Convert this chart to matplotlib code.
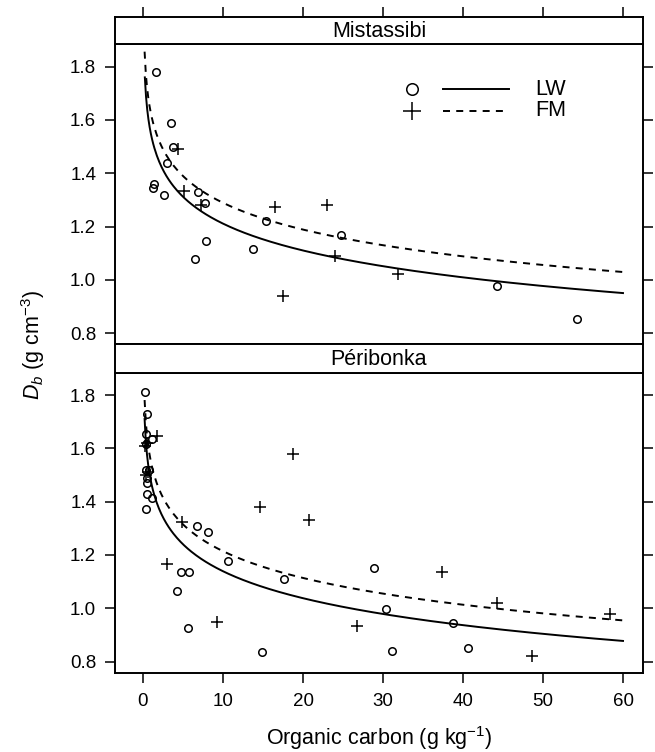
import numpy as np
import matplotlib
matplotlib.use('Agg')
import matplotlib.pyplot as plt

plt.rcParams['font.family'] = ['Liberation Sans', 'DejaVu Sans']
plt.rcParams['mathtext.fontset'] = 'custom'
plt.rcParams['mathtext.rm'] = 'Liberation Sans'
plt.rcParams['mathtext.it'] = 'Liberation Sans:italic'

# Mistassibi - points
mis_lw_oc = [1.6, 3.5, 3.7, 3.05, 1.4, 1.2, 2.6, 6.9, 7.8, 7.9, 6.5, 13.8, 15.4, 24.8, 44.3, 54.3]
mis_lw_db = [1.78, 1.59, 1.50, 1.44, 1.36, 1.345, 1.32, 1.33, 1.29, 1.147, 1.08, 1.117, 1.22, 1.17, 0.977, 0.854]
mis_fm_oc = [4.4, 5.1, 7.3, 16.5, 23.0, 24.0, 17.5, 31.9]
mis_fm_db = [1.49, 1.335, 1.28, 1.275, 1.28, 1.09, 0.94, 1.02]

# Peribonka
per_lw_oc = [0.3, 0.45, 0.35, 0.4, 1.15, 0.4, 0.75, 0.5, 0.45, 0.45, 1.1, 0.35,
             6.8, 8.1, 10.6, 4.7, 5.8, 4.3, 5.6, 14.9, 17.6, 28.9, 30.4, 31.1, 38.8, 40.6]
per_lw_db = [1.81, 1.73, 1.655, 1.615, 1.635, 1.52, 1.52, 1.49, 1.47, 1.43, 1.415, 1.372,
             1.31, 1.286, 1.177, 1.137, 1.137, 1.065, 0.927, 0.836, 1.111, 1.152, 0.996, 0.838, 0.943, 0.852]
per_fm_oc = [1.75, 0.3, 0.55, 0.35, 0.6, 4.9, 3.0, 9.3, 14.6, 18.8, 20.7, 26.8, 37.4, 44.2, 48.6, 58.4]
per_fm_db = [1.645, 1.61, 1.62, 1.50, 1.51, 1.325, 1.165, 0.949, 1.38, 1.58, 1.33, 0.932, 1.137, 1.021, 0.821, 0.979]

# fitted curves Db = a + b*ln(OC), (a, b, first OC)
mis_lw_fit = (1.546, -0.1455, 0.23)
mis_fm_fit = (1.623, -0.145, 0.2)
per_lw_fit = (1.475, -0.146, 0.2)
per_fm_fit = (1.548, -0.145, 0.2)

x_ticks = [0, 10, 20, 30, 40, 50, 60]
y_ticks = [0.8, 1.0, 1.2, 1.4, 1.6, 1.8]

W, H = 655, 752
fig = plt.figure(figsize=(W / 100, H / 100), dpi=100)

left, right = 115, 643
xlim = (-3.5, 62.5)
ylim = (0.758, 1.884)
lw_frame = 1.4
dash = (0, (3.6, 3.2))


def box(px_top, px_bot):
    return [left / W, 1 - px_bot / H, (right - left) / W, (px_bot - px_top) / H]


def style_panel(ax, bottom_labels):
    ax.set_xlim(xlim)
    ax.set_ylim(ylim)
    for s in ax.spines.values():
        s.set_linewidth(lw_frame)
    ax.set_yticks(y_ticks)
    ax.set_yticklabels(['%.1f' % v for v in y_ticks])
    ax.tick_params(axis='y', which='both', direction='out', length=7.5, width=1.1,
                   left=True, right=True, labelleft=True, labelright=False,
                   labelsize=13.5, pad=6)
    if bottom_labels:
        ax.set_xticks(x_ticks)
        ax.tick_params(axis='x', direction='out', length=7.5, width=1.1,
                       top=False, bottom=True, labelsize=13.5, pad=7)
    else:
        ax.set_xticks([])


def strip(px_top, px_bot, name, top_ticks):
    sa = fig.add_axes(box(px_top, px_bot))
    sa.set_xlim(xlim)
    sa.set_yticks([])
    for s in sa.spines.values():
        s.set_linewidth(lw_frame)
    if top_ticks:
        sa.set_xticks(x_ticks)
        sa.tick_params(axis='x', direction='out', length=7.5, width=1.1,
                       top=True, bottom=False, labeltop=False, labelbottom=False)
    else:
        sa.set_xticks([])
    sa.text(0.5, 0.48, name, transform=sa.transAxes, ha='center', va='center', fontsize=15.5)


def draw(ax, lw_oc, lw_db, fm_oc, fm_db, lw_fit, fm_fit):
    a, b, x0 = lw_fit
    xs = np.linspace(x0, 60, 400)
    ax.plot(xs, a + b * np.log(xs), color='black', lw=1.4)
    a, b, x0 = fm_fit
    xs = np.linspace(x0, 60, 400)
    ax.plot(xs, a + b * np.log(xs), color='black', lw=1.4, ls=dash)
    ax.plot(lw_oc, lw_db, 'o', ms=5.4, mfc='none', mec='black', mew=1.1)
    ax.plot(fm_oc, fm_db, '+', ms=9.2, mec='black', mew=1.1)


ax1 = fig.add_axes(box(44.3, 344.3))
style_panel(ax1, False)
draw(ax1, mis_lw_oc, mis_lw_db, mis_fm_oc, mis_fm_db, mis_lw_fit, mis_fm_fit)
strip(17.3, 44.3, 'Mistassibi', True)

ax2 = fig.add_axes(box(372.7, 672.7))
style_panel(ax2, True)
draw(ax2, per_lw_oc, per_lw_db, per_fm_oc, per_fm_db, per_lw_fit, per_fm_fit)
strip(344.3, 372.7, 'Péribonka', False)

# legend inside the top panel (key symbols drawn larger, as in the original)
t = ax1.transAxes
mx, l0, l1, tx = 0.563, 0.622, 0.747, 0.795
rows = [0.85, 0.778]
ax1.plot([mx], [rows[0]], 'o', ms=8.3, mfc='none', mec='black', mew=1.1, transform=t)
ax1.plot([mx], [rows[1]], '+', ms=13, mec='black', mew=1.1, transform=t)
ax1.plot([l0, l1], [rows[0]] * 2, color='black', lw=1.4, transform=t)
ax1.plot([l0, l1], [rows[1]] * 2, color='black', lw=1.4, ls=dash, transform=t)
ax1.text(tx, rows[0], 'LW', transform=t, va='center', ha='left', fontsize=15.5)
ax1.text(tx, rows[1], 'FM', transform=t, va='center', ha='left', fontsize=15.5)

fig.text(33 / W, 1 - 345 / H, r'$D_b$ (g cm$^{-3}$)', rotation=90, ha='center', va='center', fontsize=15.5)
fig.text((left + right) / 2 / W, 1 - 738 / H, r'Organic carbon (g kg$^{-1}$)', ha='center', va='center', fontsize=15.5)

fig.savefig('out.png', dpi=100)
